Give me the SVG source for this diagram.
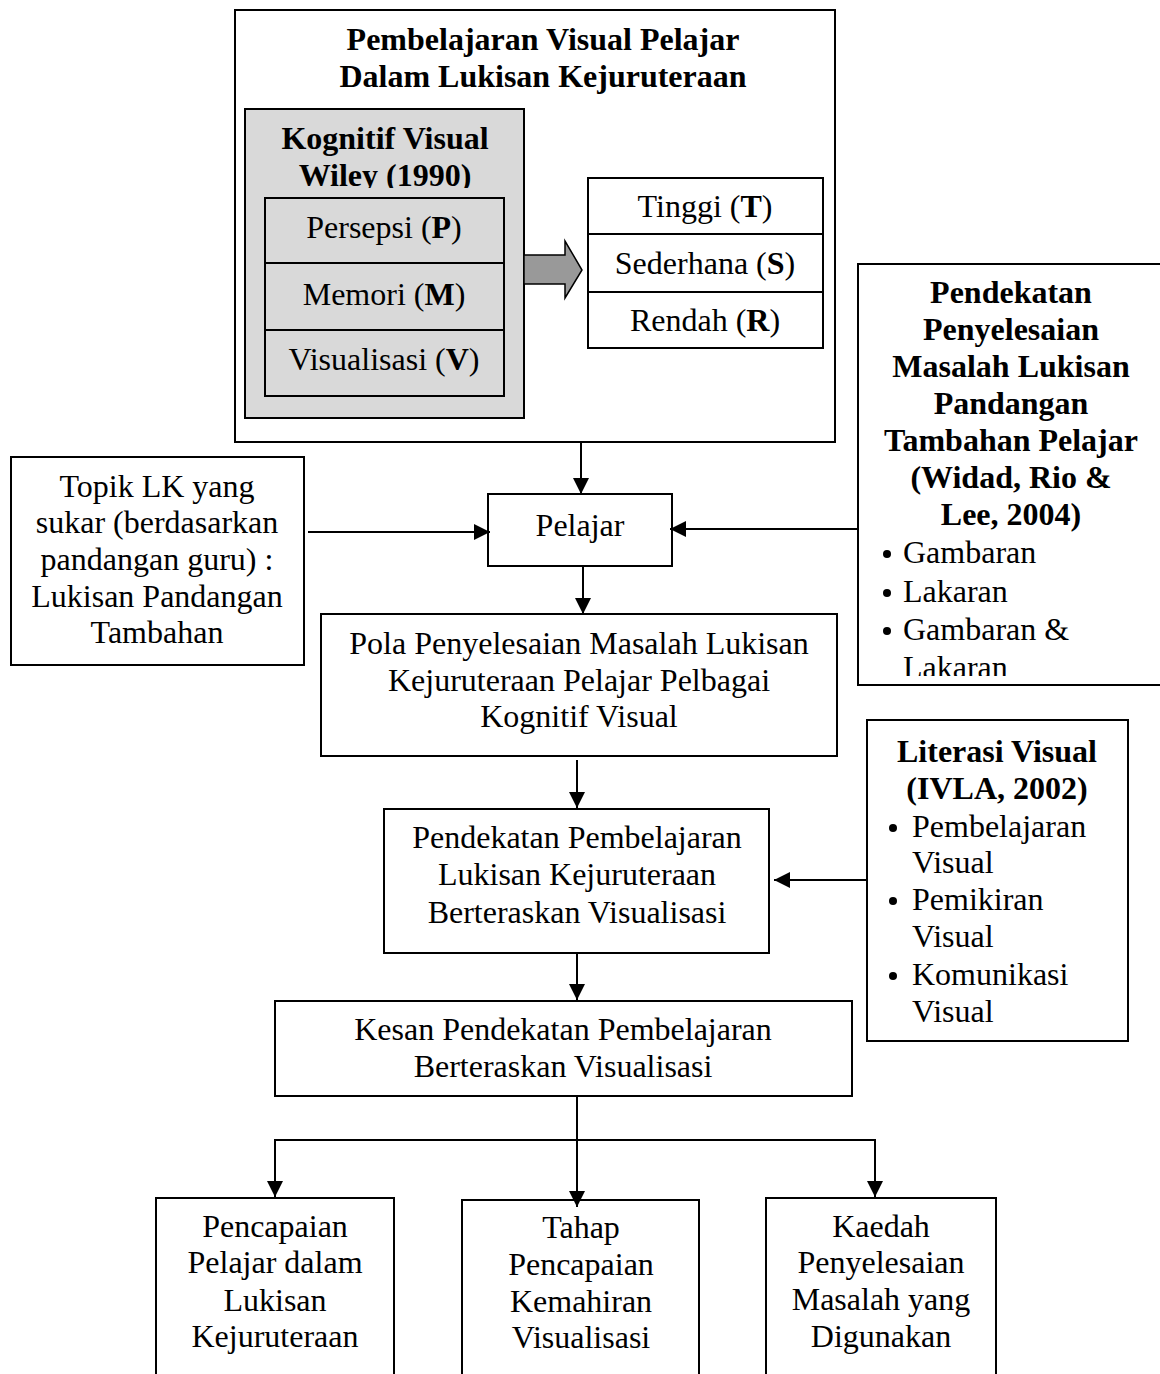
<svg xmlns="http://www.w3.org/2000/svg" width="1160" height="1374" viewBox="0 0 1160 1374">
<style>
.t{font-family:"Liberation Serif","Times New Roman",serif;font-size:32px;fill:#000;text-anchor:middle}
.l{text-anchor:start}
.b{font-weight:bold}
.box{fill:#fff;stroke:#000;stroke-width:2}
.gray{fill:#d9d9d9;stroke:#000;stroke-width:2}
.con{fill:none;stroke:#000;stroke-width:2}
</style>
<defs>
<marker id="ah" markerUnits="userSpaceOnUse" markerWidth="16" markerHeight="16" refX="16" refY="8" orient="auto">
<path d="M0,0 L16,8 L0,16 z" fill="#000"/>
</marker>
<clipPath id="clipWiley"><rect x="240" y="100" width="300" height="88"/></clipPath>
<clipPath id="clipPend"><rect x="858" y="264" width="310" height="412"/></clipPath>
</defs>
<rect width="1160" height="1374" fill="#fff"/>

<g id="top">
<rect class="box" x="235" y="10" width="600" height="432"/>
<text class="t b" x="543" y="50">Pembelajaran Visual Pelajar</text>
<text class="t b" x="543" y="87">Dalam Lukisan Kejuruteraan</text>
</g>

<g id="kognitif">
<rect class="gray" x="245" y="109" width="279" height="309"/>
<g clip-path="url(#clipWiley)">
<text class="t b" x="385" y="149">Kognitif Visual</text>
<text class="t b" x="385" y="186">Wiley (1990)</text>
</g>
<rect class="gray" x="265" y="198" width="239" height="198"/>
<line class="con" x1="265" y1="263" x2="504" y2="263"/>
<line class="con" x1="265" y1="330" x2="504" y2="330"/>
<text class="t" x="384" y="238">Persepsi (<tspan class="b">P</tspan>)</text>
<text class="t" x="384" y="305">Memori (<tspan class="b">M</tspan>)</text>
<text class="t" x="384" y="370">Visualisasi (<tspan class="b">V</tspan>)</text>
</g>

<g id="blockarrow">
<polygon points="524,255 565,255 565,241 582,270 565,298 565,284 524,284" fill="#999" stroke="#000" stroke-width="1.5"/>
</g>

<g id="tahap">
<rect class="box" x="588" y="178" width="235" height="170"/>
<line class="con" x1="588" y1="234" x2="823" y2="234"/>
<line class="con" x1="588" y1="292" x2="823" y2="292"/>
<text class="t" x="705" y="217">Tinggi (<tspan class="b">T</tspan>)</text>
<text class="t" x="705" y="274">Sederhana (<tspan class="b">S</tspan>)</text>
<text class="t" x="705" y="331">Rendah (<tspan class="b">R</tspan>)</text>
</g>

<g id="pendekatanPenyelesaian">
<rect class="box" x="858" y="264" width="320" height="421"/>
<g clip-path="url(#clipPend)">
<text class="t b" x="1011" y="303">Pendekatan</text>
<text class="t b" x="1011" y="340">Penyelesaian</text>
<text class="t b" x="1011" y="377">Masalah Lukisan</text>
<text class="t b" x="1011" y="414">Pandangan</text>
<text class="t b" x="1011" y="451">Tambahan Pelajar</text>
<text class="t b" x="1011" y="488">(Widad, Rio &amp;</text>
<text class="t b" x="1011" y="525">Lee, 2004)</text>
<circle cx="887" cy="554" r="4"/>
<text class="t l" x="903" y="563">Gambaran</text>
<circle cx="887" cy="593" r="4"/>
<text class="t l" x="903" y="602">Lakaran</text>
<circle cx="887" cy="631" r="4"/>
<text class="t l" x="903" y="640">Gambaran &amp;</text>
<text class="t l" x="903" y="678">Lakaran</text>
</g>
</g>

<g id="topik">
<rect class="box" x="11" y="457" width="293" height="208"/>
<text class="t" x="157" y="497">Topik LK yang</text>
<text class="t" x="157" y="533">sukar (berdasarkan</text>
<text class="t" x="157" y="570">pandangan guru) :</text>
<text class="t" x="157" y="607">Lukisan Pandangan</text>
<text class="t" x="157" y="643">Tambahan</text>
</g>

<g id="pelajar">
<rect class="box" x="488" y="494" width="184" height="72"/>
<text class="t" x="580" y="536">Pelajar</text>
</g>

<g id="pola">
<rect class="box" x="321" y="614" width="516" height="142"/>
<text class="t" x="579" y="654">Pola Penyelesaian Masalah Lukisan</text>
<text class="t" x="579" y="691">Kejuruteraan Pelajar Pelbagai</text>
<text class="t" x="579" y="727">Kognitif Visual</text>
</g>

<g id="pendekatanPembelajaran">
<rect class="box" x="384" y="809" width="385" height="144"/>
<text class="t" x="577" y="848">Pendekatan Pembelajaran</text>
<text class="t" x="577" y="885">Lukisan Kejuruteraan</text>
<text class="t" x="577" y="923">Berteraskan Visualisasi</text>
</g>

<g id="literasi">
<rect class="box" x="867" y="720" width="261" height="321"/>
<text class="t b" x="997" y="762">Literasi Visual</text>
<text class="t b" x="997" y="799">(IVLA, 2002)</text>
<circle cx="893" cy="828" r="4"/>
<text class="t l" x="912" y="837">Pembelajaran</text>
<text class="t l" x="912" y="873">Visual</text>
<circle cx="893" cy="901" r="4"/>
<text class="t l" x="912" y="910">Pemikiran</text>
<text class="t l" x="912" y="947">Visual</text>
<circle cx="893" cy="976" r="4"/>
<text class="t l" x="912" y="985">Komunikasi</text>
<text class="t l" x="912" y="1022">Visual</text>
</g>

<g id="kesan">
<rect class="box" x="275" y="1001" width="577" height="95"/>
<text class="t" x="563" y="1040">Kesan Pendekatan Pembelajaran</text>
<text class="t" x="563" y="1077">Berteraskan Visualisasi</text>
</g>

<g id="pencapaian">
<rect class="box" x="156" y="1198" width="238" height="200"/>
<text class="t" x="275" y="1237">Pencapaian</text>
<text class="t" x="275" y="1273">Pelajar dalam</text>
<text class="t" x="275" y="1311">Lukisan</text>
<text class="t" x="275" y="1347">Kejuruteraan</text>
</g>

<g id="tahapPencapaian">
<rect class="box" x="462" y="1200" width="237" height="200"/>
<text class="t" x="581" y="1238">Tahap</text>
<text class="t" x="581" y="1275">Pencapaian</text>
<text class="t" x="581" y="1312">Kemahiran</text>
<text class="t" x="581" y="1348">Visualisasi</text>
</g>

<g id="kaedah">
<rect class="box" x="766" y="1198" width="230" height="200"/>
<text class="t" x="881" y="1237">Kaedah</text>
<text class="t" x="881" y="1273">Penyelesaian</text>
<text class="t" x="881" y="1310">Masalah yang</text>
<text class="t" x="881" y="1347">Digunakan</text>
</g>

<g id="connectors">
<line class="con" x1="581" y1="442" x2="581" y2="494" marker-end="url(#ah)"/>
<line class="con" x1="308" y1="532" x2="490" y2="532" marker-end="url(#ah)"/>
<line class="con" x1="858" y1="529" x2="670" y2="529" marker-end="url(#ah)"/>
<line class="con" x1="583" y1="566" x2="583" y2="614" marker-end="url(#ah)"/>
<line class="con" x1="577" y1="760" x2="577" y2="808" marker-end="url(#ah)"/>
<line class="con" x1="867" y1="880" x2="774" y2="880" marker-end="url(#ah)"/>
<line class="con" x1="577" y1="953" x2="577" y2="1000" marker-end="url(#ah)"/>
<line class="con" x1="577" y1="1096" x2="577" y2="1207" marker-end="url(#ah)"/>
<line class="con" x1="275" y1="1140" x2="875" y2="1140"/>
<line class="con" x1="275" y1="1139" x2="275" y2="1197" marker-end="url(#ah)"/>
<line class="con" x1="875" y1="1139" x2="875" y2="1197" marker-end="url(#ah)"/>
</g>
</svg>
